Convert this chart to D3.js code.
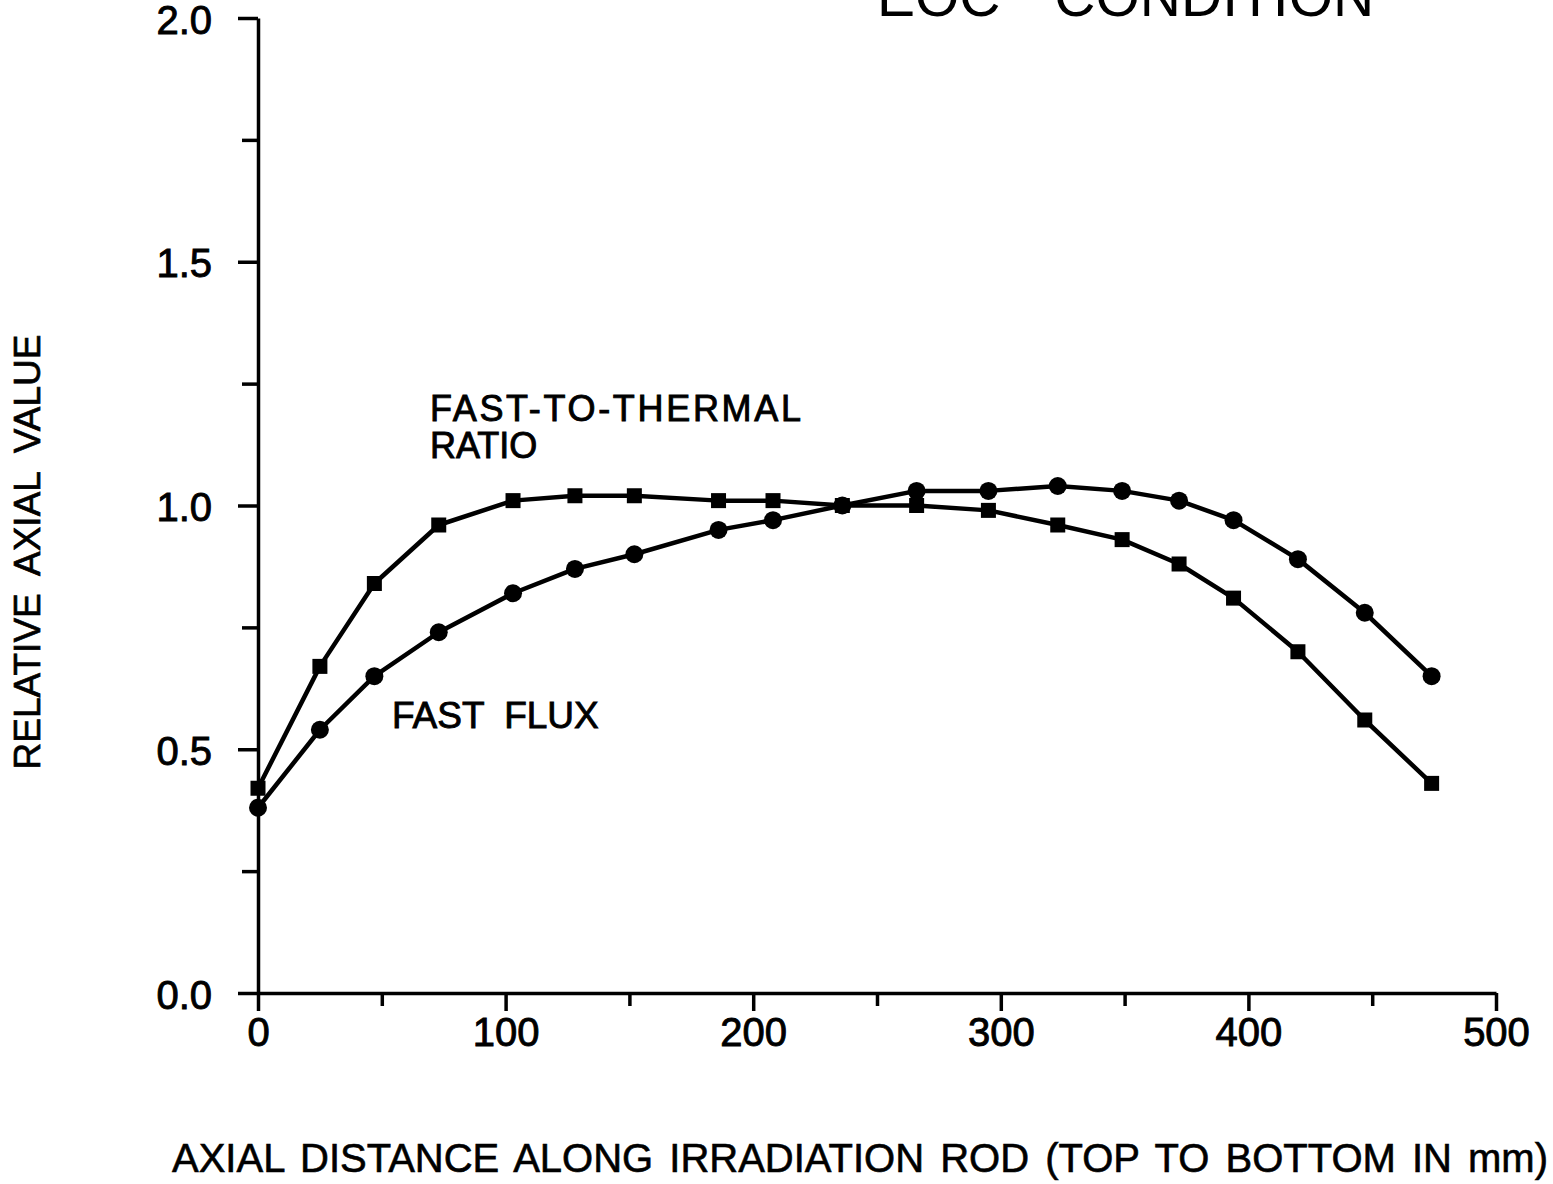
<!DOCTYPE html>
<html lang="en">
<head>
    <meta charset="UTF-8">
    <title>EOC CONDITION</title>
    <script src="https://d3js.org/d3.v7.min.js"></script>
    <style>
        body {
            margin: 0;
            background: #ffffff;
        }
        svg text {
            font-family: 'Liberation Sans', Arial, sans-serif;
            fill: #000;
        }
    </style>
</head>
<body>
    <div id="chart"></div>

    <script>
        // axial positions (mm) shared by both curves
        const distance = [0, 25, 47, 73, 103, 128, 152, 186, 208, 236, 266, 295, 323, 349, 372, 394, 420, 447, 474];
        // fast-to-thermal ratio (square markers)
        const ratioValues = [0.42, 0.67, 0.84, 0.96, 1.01, 1.02, 1.02, 1.01, 1.01, 1.00, 1.00, 0.99, 0.96, 0.93, 0.88, 0.81, 0.70, 0.56, 0.43];
        // fast flux (circle markers)
        const fluxValues = [0.38, 0.54, 0.65, 0.74, 0.82, 0.87, 0.90, 0.95, 0.97, 1.00, 1.03, 1.03, 1.04, 1.03, 1.01, 0.97, 0.89, 0.78, 0.65];

        const xTicks = [0, 100, 200, 300, 400, 500];
        const xMinorTicks = [50, 150, 250, 350, 450];
        const yTicks = [0.0, 0.5, 1.0, 1.5, 2.0];
        const yMinorTicks = [0.25, 0.75, 1.25, 1.75];

        const width = 1553;
        const height = 1184;

        const svg = d3.select("#chart")
            .append("svg")
            .attr("width", width)
            .attr("height", height)
            .attr("viewBox", [0, 0, width, height]);

        const x = d3.scaleLinear().domain([0, 500]).range([258, 1496]);
        const y = d3.scaleLinear().domain([0, 2]).range([993, 18]);

        // y axis
        const yAxis = svg.append("g")
            .attr("transform", `translate(${x(0)},0)`)
            .call(d3.axisLeft(y).tickValues(yTicks).tickSize(20).tickSizeOuter(0)
                .tickPadding(26).tickFormat(d3.format(".1f")));
        svg.append("g")
            .attr("transform", `translate(${x(0)},0)`)
            .call(d3.axisLeft(y).tickValues(yMinorTicks).tickSize(16).tickFormat(""))
            .select(".domain").remove();

        // x axis
        const xAxis = svg.append("g")
            .attr("transform", `translate(0,${y(0)})`)
            .call(d3.axisBottom(x).tickValues(xTicks).tickSize(18).tickSizeOuter(0)
                .tickPadding(7).tickFormat(d3.format("d")));
        svg.append("g")
            .attr("transform", `translate(0,${y(0)})`)
            .call(d3.axisBottom(x).tickValues(xMinorTicks).tickSize(13).tickFormat(""))
            .select(".domain").remove();

        svg.selectAll(".domain, .tick line")
            .attr("stroke", "#000")
            .attr("stroke-width", 3.5);
        svg.selectAll(".tick text")
            .attr("font-size", 40)
            .attr("fill", "#000")
            .attr("stroke", "#000")
            .attr("stroke-width", 0.9);
        xAxis.selectAll(".tick text").attr("dy", "0.71em");
        yAxis.selectAll(".tick text").attr("dy", "0.38em");

        const line = d3.line()
            .x(d => x(d[0]))
            .y(d => y(d[1]));

        const ratio = distance.map((d, i) => [d, ratioValues[i]]);
        const flux = distance.map((d, i) => [d, fluxValues[i]]);

        [ratio, flux].forEach(s => {
            svg.append("path")
                .datum(s)
                .attr("fill", "none")
                .attr("stroke", "#000")
                .attr("stroke-width", 4.5)
                .attr("stroke-linejoin", "round")
                .attr("d", line);
        });

        // square markers
        svg.append("g")
            .selectAll("rect")
            .data(ratio)
            .join("rect")
            .attr("x", d => x(d[0]) - 7.5)
            .attr("y", d => y(d[1]) - 7.5)
            .attr("width", 15)
            .attr("height", 15)
            .attr("fill", "#000");

        // circle markers
        svg.append("g")
            .selectAll("circle")
            .data(flux)
            .join("circle")
            .attr("cx", d => x(d[0]))
            .attr("cy", d => y(d[1]))
            .attr("r", 9)
            .attr("fill", "#000");

        // curve labels
        svg.append("text")
            .attr("x", 430)
            .attr("y", 421)
            .attr("font-size", 36)
            .attr("stroke", "#000")
            .attr("stroke-width", 0.9)
            .attr("textLength", 371)
            .attr("lengthAdjust", "spacing")
            .text("FAST-TO-THERMAL");
        svg.append("text")
            .attr("x", 430)
            .attr("y", 458)
            .attr("font-size", 36)
            .attr("stroke", "#000")
            .attr("stroke-width", 0.9)
            .text("RATIO");
        svg.append("text")
            .attr("x", 392)
            .attr("y", 728)
            .attr("font-size", 37)
            .attr("stroke", "#000")
            .attr("stroke-width", 0.9)
            .attr("word-spacing", 10)
            .text("FAST FLUX");

        // title (cut at the top edge, as in the original)
        svg.append("text")
            .attr("x", 877)
            .attr("y", 16)
            .attr("font-size", 57)
            .attr("word-spacing", 38)
            .text("EOC CONDITION");

        // axis titles: widen the gaps between words, not the letters
        const xTitle = svg.append("text")
            .attr("x", 172)
            .attr("y", 1172)
            .attr("font-size", 40)
            .attr("stroke", "#000")
            .attr("stroke-width", 0.6)
            .text("AXIAL DISTANCE ALONG IRRADIATION ROD (TOP TO BOTTOM IN mm)");
        const xLen = xTitle.node().getComputedTextLength();
        xTitle.attr("word-spacing", Math.max(0, (1376 - xLen) / 9));

        svg.append("text")
            .attr("transform", "translate(40,552) rotate(-90)")
            .attr("text-anchor", "middle")
            .attr("font-size", 37)
            .attr("stroke", "#000")
            .attr("stroke-width", 0.7)
            .attr("word-spacing", 9)
            .text("RELATIVE AXIAL VALUE");
    </script>
</body>
</html>
